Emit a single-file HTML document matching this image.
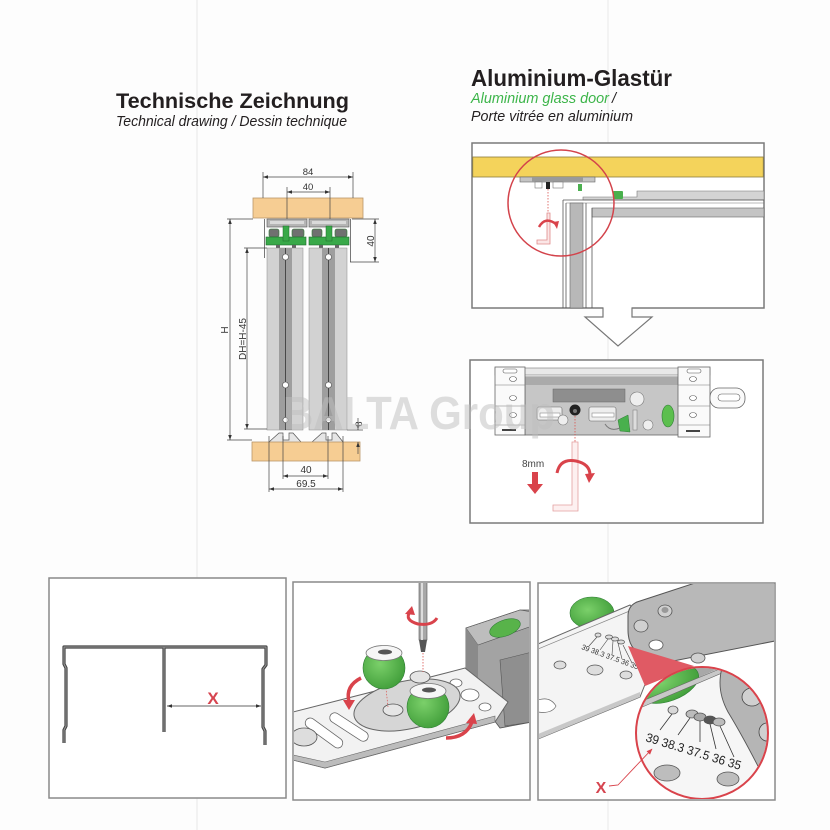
<!DOCTYPE html>
<html><head><meta charset="utf-8"><style>
html,body{margin:0;padding:0;background:#fff;}
svg{display:block;}
</style></head><body>
<svg width="830" height="830" viewBox="0 0 830 830" xmlns="http://www.w3.org/2000/svg" font-family="'Liberation Sans', sans-serif">
<defs>
<marker id="ar" viewBox="0 0 10 10" refX="10" refY="5" markerWidth="5" markerHeight="5" markerUnits="userSpaceOnUse" orient="auto-start-reverse"><path d="M0,1.5 L10,5 L0,8.5z" fill="#333"/></marker>
<marker id="ar2" viewBox="0 0 10 10" refX="9" refY="5" markerWidth="6" markerHeight="6" markerUnits="userSpaceOnUse" orient="auto"><path d="M0,1 L10,5 L0,9z" fill="#d9434b"/></marker>
<radialGradient id="gb" cx="0.4" cy="0.4" r="0.7"><stop offset="0" stop-color="#7bd06a"/><stop offset="1" stop-color="#3c9a36"/></radialGradient>
<clipPath id="c4"><rect x="294" y="583" width="235" height="216"/></clipPath>
<clipPath id="c5"><rect x="539" y="584" width="235" height="215"/></clipPath>
<clipPath id="cc"><circle cx="702" cy="733" r="65"/></clipPath>
</defs>
<rect width="830" height="830" fill="#fdfdfd"/>
<line x1="197" y1="0" x2="197" y2="830" stroke="#efefef" stroke-width="1.5"/>
<line x1="608" y1="0" x2="608" y2="830" stroke="#f0f0f0" stroke-width="1.5"/>

<!-- Titles -->
<text x="116" y="108" font-size="21.5" font-weight="bold" fill="#231f20" textLength="233" lengthAdjust="spacingAndGlyphs">Technische Zeichnung</text>
<text x="116" y="126" font-size="15" font-style="italic" fill="#231f20" textLength="231" lengthAdjust="spacingAndGlyphs">Technical drawing / Dessin technique</text>
<text x="471" y="86" font-size="23" font-weight="bold" fill="#231f20" textLength="201" lengthAdjust="spacingAndGlyphs">Aluminium-Glastür</text>
<text x="471" y="103" font-size="14.5" font-style="italic" fill="#3db54a" textLength="138" lengthAdjust="spacingAndGlyphs">Aluminium glass door</text>
<text x="612" y="103" font-size="14.5" font-style="italic" fill="#231f20">/</text>
<text x="471" y="121" font-size="14.5" font-style="italic" fill="#231f20" textLength="162" lengthAdjust="spacingAndGlyphs">Porte vitrée en aluminium</text>

<!-- Technical drawing -->
<rect x="253" y="198" width="110" height="20" fill="#f6cd93" stroke="#b9976a" stroke-width="0.8"/>
<g stroke="#444" stroke-width="0.7" fill="none">
<line x1="263" y1="177" x2="353" y2="177" marker-start="url(#ar)" marker-end="url(#ar)"/>
<line x1="263" y1="172" x2="263" y2="198"/>
<line x1="353" y1="172" x2="353" y2="198"/>
<line x1="287" y1="192" x2="330" y2="192" marker-start="url(#ar)" marker-end="url(#ar)"/>
<line x1="287" y1="187" x2="287" y2="230"/>
<line x1="330" y1="187" x2="330" y2="230"/>
</g>
<text x="308" y="175" font-size="9.5" text-anchor="middle" fill="#333">84</text>
<text x="308" y="190" font-size="9.5" text-anchor="middle" fill="#333">40</text>
<rect x="267" y="219" width="40" height="8" fill="#b5b5b5" stroke="#555" stroke-width="0.6"/>
<rect x="309" y="219" width="40" height="8" fill="#b5b5b5" stroke="#555" stroke-width="0.6"/>
<rect x="270" y="221" width="34" height="3" fill="#dadada"/>
<rect x="312" y="221" width="34" height="3" fill="#dadada"/>
<g stroke="#555" stroke-width="0.8">
<line x1="264.5" y1="219" x2="264.5" y2="258"/>
<line x1="350.5" y1="219" x2="350.5" y2="262"/>
</g>
<g id="grn">
<rect x="269" y="229" width="10" height="8" rx="2" fill="#707070" stroke="#2f7d35" stroke-width="0.6"/>
<rect x="292" y="229" width="12" height="8" rx="2" fill="#707070" stroke="#2f7d35" stroke-width="0.6"/>
<rect x="266" y="237" width="40" height="8" fill="#39a949" stroke="#1f6a2a" stroke-width="0.6"/>
<rect x="283" y="226" width="6" height="15" fill="#39a949" stroke="#1f6a2a" stroke-width="0.5"/>
<rect x="276" y="245" width="4" height="3" fill="#666"/>
<rect x="292" y="245" width="4" height="3" fill="#666"/>
</g>
<use href="#grn" x="43"/>
<rect x="267" y="248" width="36" height="182" fill="#d2d2d2" stroke="#888" stroke-width="0.5"/>
<rect x="279" y="248" width="13" height="182" fill="#9e9e9e"/>
<line x1="285.5" y1="248" x2="285.5" y2="430" stroke="#333" stroke-width="0.8"/>
<rect x="309" y="248" width="38" height="182" fill="#d2d2d2" stroke="#888" stroke-width="0.5"/>
<rect x="322" y="248" width="13" height="182" fill="#9e9e9e"/>
<line x1="328.5" y1="248" x2="328.5" y2="430" stroke="#333" stroke-width="0.8"/>
<g fill="#fff" stroke="#555" stroke-width="0.6">
<circle cx="285.5" cy="257" r="3"/><circle cx="285.5" cy="385" r="3"/><circle cx="285.5" cy="420" r="2.6"/>
<circle cx="328.5" cy="257" r="3"/><circle cx="328.5" cy="385" r="3"/><circle cx="328.5" cy="420" r="2.6"/>
</g>
<path d="M269,442 L279,433 L283,433 L283,440 L289,440 L289,433 L293,433 L301,442" fill="#e6e6e6" stroke="#555" stroke-width="0.7"/>
<path d="M312,442 L322,433 L326,433 L326,440 L332,440 L332,433 L336,433 L343,442" fill="#e6e6e6" stroke="#555" stroke-width="0.7"/>
<rect x="252" y="442" width="108" height="19" fill="#f6cd93" stroke="#b9976a" stroke-width="0.8"/>
<g stroke="#444" stroke-width="0.7" fill="none">
<line x1="269" y1="436" x2="269" y2="492"/>
<line x1="343" y1="436" x2="343" y2="492"/>
<line x1="283" y1="436" x2="283" y2="479"/>
<line x1="328" y1="436" x2="328" y2="479"/>
<line x1="283" y1="476" x2="328" y2="476" marker-start="url(#ar)" marker-end="url(#ar)"/>
<line x1="269" y1="489" x2="343" y2="489" marker-start="url(#ar)" marker-end="url(#ar)"/>
<line x1="227" y1="219" x2="253" y2="219"/>
<line x1="227" y1="440" x2="252" y2="440"/>
<line x1="230" y1="219" x2="230" y2="440" marker-start="url(#ar)" marker-end="url(#ar)"/>
<line x1="244" y1="248" x2="267" y2="248"/>
<line x1="244" y1="429" x2="267" y2="429"/>
<line x1="247" y1="248" x2="247" y2="429" marker-start="url(#ar)" marker-end="url(#ar)"/>
<line x1="352" y1="219" x2="379" y2="219"/>
<line x1="350" y1="262" x2="379" y2="262"/>
<line x1="375" y1="219" x2="375" y2="262" marker-start="url(#ar)" marker-end="url(#ar)"/>
<line x1="347" y1="430" x2="363" y2="430"/>
<line x1="358" y1="418" x2="358" y2="430" marker-end="url(#ar)"/>
<line x1="358" y1="454" x2="358" y2="442" marker-end="url(#ar)"/>
</g>
<text x="306" y="473" font-size="10" text-anchor="middle" fill="#333">40</text>
<text x="306" y="487" font-size="10" text-anchor="middle" fill="#333">69.5</text>
<text transform="translate(228,330) rotate(-90)" font-size="10" text-anchor="middle" fill="#333">H</text>
<text transform="translate(246,339) rotate(-90)" font-size="10" text-anchor="middle" fill="#333">DH=H-45</text>
<text transform="translate(374,241) rotate(-90)" font-size="10" text-anchor="middle" fill="#333">40</text>
<text transform="translate(362,424) rotate(-90)" font-size="9" text-anchor="middle" fill="#333">8</text>

<!-- Top-right panel 1 -->
<rect x="472" y="143" width="292" height="165" fill="#fff" stroke="#7a7a7a" stroke-width="1.5"/>
<rect x="472.75" y="157" width="290.5" height="20" fill="#f4d35b" stroke="#8d7d3e" stroke-width="0.8"/>
<rect x="520" y="177" width="75" height="5" fill="#c4c4c4" stroke="#666" stroke-width="0.6"/>
<rect x="532" y="177" width="51" height="5" fill="#9a9a9a"/>
<rect x="535" y="182" width="7" height="6" fill="#fff" stroke="#777" stroke-width="0.6"/>
<rect x="546" y="182" width="4" height="7" fill="#222"/>
<rect x="553" y="182" width="10" height="6" fill="#fff" stroke="#777" stroke-width="0.6"/>
<rect x="578" y="184" width="4" height="7" fill="#4cb050"/>
<path d="M583,197 L637,197 L637,191 L764,191 L764,200 L583,200 Z" fill="#d4d4d4" stroke="#777" stroke-width="0.6"/>
<rect x="613" y="191" width="10" height="8" rx="1" fill="#49b04d"/>
<line x1="563" y1="200" x2="764" y2="200" stroke="#555" stroke-width="0.8"/>
<line x1="566" y1="203" x2="764" y2="203" stroke="#777" stroke-width="0.6"/>
<rect x="592" y="208" width="172" height="9" fill="#c4c4c4" stroke="#666" stroke-width="0.6"/>
<rect x="570" y="203" width="13" height="105" fill="#b8b8b8" stroke="#666" stroke-width="0.6"/>
<g stroke="#555" stroke-width="0.8">
<line x1="563" y1="200" x2="563" y2="308"/>
<line x1="566" y1="203" x2="566" y2="308"/>
<line x1="586" y1="203" x2="586" y2="308"/>
<line x1="592" y1="208" x2="592" y2="308"/>
</g>
<circle cx="561" cy="203" r="53" fill="none" stroke="#d3434b" stroke-width="1.5"/>
<line x1="548" y1="189" x2="548" y2="213" stroke="#d9534f" stroke-width="0.8" stroke-dasharray="1.5 1.5"/>
<path d="M547,213 L550,213 L550,244 L537,244 L537,240 L547,240 Z" fill="#fbe6e6" stroke="#e08a8a" stroke-width="0.8"/>
<path d="M539,227 Q545,216 556,224" fill="none" stroke="#d9434b" stroke-width="2.5"/>
<path d="M553,222 L559,221 L557,229 Z" fill="#d9434b"/>
<rect x="603.5" y="305" width="28" height="6" fill="#fff"/>
<path d="M603,308 L603,317 L585,317 L618,346 L652,317 L632,317 L632,308" fill="#fff" stroke="#777" stroke-width="1.2"/>

<!-- Panel 2 -->
<rect x="470" y="360" width="293" height="163" fill="#fff" stroke="#7a7a7a" stroke-width="1.5"/>
<rect x="495" y="368" width="215" height="7" fill="#e8e8e8" stroke="#777" stroke-width="0.6"/>
<rect x="525" y="377" width="155" height="58" fill="#c6c6c6" stroke="#666" stroke-width="0.8"/>
<rect x="525" y="377" width="155" height="8" fill="#aaa"/>
<rect x="553" y="389" width="72" height="13" fill="#8e8e8e" stroke="#666" stroke-width="0.5"/>
<circle cx="637" cy="399" r="7" fill="#eee" stroke="#777" stroke-width="0.6"/>
<rect x="537" y="407" width="25" height="13" rx="2" fill="#eee" stroke="#666" stroke-width="0.6"/>
<rect x="540" y="413" width="20" height="4" fill="#fff" stroke="#777" stroke-width="0.5"/>
<rect x="589" y="407" width="27" height="14" rx="2" fill="#eee" stroke="#666" stroke-width="0.6"/>
<rect x="592" y="413" width="22" height="4" fill="#fff" stroke="#777" stroke-width="0.5"/>
<circle cx="563" cy="420" r="5" fill="#eee" stroke="#777" stroke-width="0.6"/>
<circle cx="648" cy="425" r="5" fill="#eee" stroke="#777" stroke-width="0.6"/>
<circle cx="575" cy="410" r="5.5" fill="#222"/>
<circle cx="575" cy="411" r="2" fill="#777"/>
<ellipse cx="668" cy="416" rx="6" ry="11" fill="#5cbf4e" stroke="#2f7d35" stroke-width="0.6"/>
<path d="M618,420 L628,415 L630,432 L620,431Z" fill="#49b04d" stroke="#2f7d35" stroke-width="0.5"/>
<path d="M605,424 Q610,432 620,428" fill="none" stroke="#777" stroke-width="1"/>
<rect x="633" y="410" width="4" height="20" fill="#ddd" stroke="#777" stroke-width="0.5"/>
<g fill="#fafafa" stroke="#666" stroke-width="0.8">
<rect x="495" y="367" width="30" height="68"/>
<rect x="678" y="367" width="32" height="70"/>
<rect x="710" y="388" width="35" height="20" rx="9"/>
</g>
<g stroke="#777" stroke-width="0.6">
<line x1="495" y1="385" x2="525" y2="385"/><line x1="495" y1="406" x2="525" y2="406"/><line x1="495" y1="425" x2="525" y2="425"/>
<line x1="678" y1="385" x2="710" y2="385"/><line x1="678" y1="406" x2="710" y2="406"/><line x1="678" y1="425" x2="710" y2="425"/>
</g>
<g fill="#fff" stroke="#555" stroke-width="0.6">
<rect x="503" y="369" width="14" height="4" rx="2"/>
<ellipse cx="513" cy="379" rx="3.5" ry="2.5"/>
<ellipse cx="513" cy="398" rx="3.5" ry="2.5"/>
<ellipse cx="513" cy="415" rx="3.5" ry="2.5"/>
<rect x="687" y="369" width="14" height="4" rx="2"/>
<ellipse cx="693" cy="379" rx="3.5" ry="2.5"/>
<ellipse cx="693" cy="398" rx="3.5" ry="2.5"/>
<ellipse cx="693" cy="415" rx="3.5" ry="2.5"/>
<rect x="718" y="394" width="22" height="7" rx="3.5"/>
</g>
<rect x="502" y="429" width="14" height="2" fill="#444"/>
<rect x="686" y="430" width="14" height="2" fill="#444"/>
<line x1="575" y1="416" x2="575" y2="442" stroke="#d9534f" stroke-width="0.8" stroke-dasharray="1.5 1.5"/>
<path d="M572,442 L578,442 L578,511 L553,511 L553,505 L572,505 Z" fill="#fdf0f0" stroke="#e3a0a0" stroke-width="0.8"/>
<path d="M557,473 Q560,458 576,461 Q590,464 590,475" fill="none" stroke="#d9434b" stroke-width="3"/>
<path d="M585,474 L595,473 L589,483 Z" fill="#d9434b"/>
<text x="522" y="467" font-size="10" fill="#444">8mm</text>
<rect x="532" y="472" width="6" height="13" fill="#d9434b"/>
<path d="M527,484 L543,484 L535,494 Z" fill="#d9434b"/>

<!-- Panel 3 -->
<rect x="49" y="578" width="237" height="220" fill="#fff" stroke="#8a8a8a" stroke-width="1.5"/>
<g fill="none" stroke-linejoin="round">
<path d="M64,743 L64,730 L66,726 L66,668 L64,664 L64,647 L266,647 L266,665 L263,669 L263,727 L265,731 L265,745 M164,647 L164,732" stroke="#444" stroke-width="3.2"/>
<path d="M64,743 L64,730 L66,726 L66,668 L64,664 L64,647 L266,647 L266,665 L263,669 L263,727 L265,731 L265,745 M164,647 L164,732" stroke="#9a9a9a" stroke-width="1"/>
</g>
<line x1="167" y1="706" x2="261" y2="706" stroke="#333" stroke-width="0.8" marker-start="url(#ar)" marker-end="url(#ar)"/>
<text x="213" y="704" font-size="17" font-weight="bold" fill="#d64550" text-anchor="middle">X</text>

<!-- Panel 4 -->
<rect x="293" y="582" width="237" height="218" fill="#fff" stroke="#8a8a8a" stroke-width="1.5"/>
<g clip-path="url(#c4)">
<path d="M466,628 L520,610 L532,610 L532,722 L500,728 L488,712 L466,706 Z" fill="#a3a3a3" stroke="#555" stroke-width="0.8"/>
<path d="M466,628 L520,610 L532,612 L532,626 L478,645 Z" fill="#bdbdbd" stroke="#555" stroke-width="0.6"/>
<path d="M466,628 L478,645 L478,705 L466,706 Z" fill="#8a8a8a"/>
<path d="M500,660 L532,652 L532,722 L505,726 Z" fill="#8f8f8f" stroke="#555" stroke-width="0.6"/>
<ellipse cx="505" cy="628" rx="16" ry="8" transform="rotate(-20 505 628)" fill="#58b34a" stroke="#2f7d35" stroke-width="0.6"/>
<path d="M293,712 L446,673 L465,668 L508,702 L495,722 L325,768 L293,760 Z" fill="#f2f2f2" stroke="#666" stroke-width="1"/>
<path d="M293,755 L325,762 L495,716 L495,722 L325,768 L293,760 Z" fill="#bcbcbc" stroke="#666" stroke-width="0.6"/>
<g fill="#fff" stroke="#666" stroke-width="0.8">
<rect x="302" y="728" width="44" height="10" rx="5" transform="rotate(36 324 733)"/>
<rect x="327" y="722" width="44" height="10" rx="5" transform="rotate(33 349 727)"/>
<ellipse cx="456" cy="683" rx="6" ry="4"/>
<ellipse cx="470" cy="695" rx="9" ry="6"/>
<ellipse cx="485" cy="707" rx="6" ry="4"/>
</g>
<ellipse cx="304" cy="737" rx="13" ry="9" fill="#ddd" stroke="#555" stroke-width="0.8"/>
<ellipse cx="407" cy="705" rx="54" ry="24" transform="rotate(-12 407 705)" fill="#d6d6d6" stroke="#666" stroke-width="1"/>
<ellipse cx="420" cy="677" rx="10" ry="6" fill="#e5e5e5" stroke="#555" stroke-width="0.8"/>
<ellipse cx="393" cy="710" rx="10" ry="6" fill="#e5e5e5" stroke="#555" stroke-width="0.8"/>
<line x1="384" y1="670" x2="388" y2="707" stroke="#d9534f" stroke-width="0.7" stroke-dasharray="1.5 1.5"/>
<circle cx="384" cy="668" r="21" fill="url(#gb)" stroke="#2f7d35" stroke-width="0.6"/>
<ellipse cx="384" cy="653" rx="18" ry="7.5" fill="#f6f6f6" stroke="#777" stroke-width="0.8"/>
<ellipse cx="385" cy="652" rx="7" ry="2.5" fill="#555"/>
<circle cx="428" cy="707" r="21" fill="url(#gb)" stroke="#2f7d35" stroke-width="0.6"/>
<ellipse cx="428" cy="691" rx="18" ry="7.5" fill="#f6f6f6" stroke="#777" stroke-width="0.8"/>
<ellipse cx="429" cy="690" rx="7" ry="2.5" fill="#555"/>
<rect x="419" y="582" width="8" height="58" fill="#a8a8a8" stroke="#555" stroke-width="0.6"/>
<rect x="421" y="582" width="2" height="58" fill="#ddd"/>
<path d="M419,640 L427,640 L425,652 L421,652 Z" fill="#555"/>
<line x1="423" y1="653" x2="423" y2="672" stroke="#d9534f" stroke-width="0.8" stroke-dasharray="1.5 1.5"/>
<path d="M410,612 Q404,620 418,624 Q432,626 437,618" fill="none" stroke="#d9434b" stroke-width="3"/>
<path d="M405,614 L412,606 L415,615 Z" fill="#d9434b"/>
<path d="M361,678 Q345,686 349,702" fill="none" stroke="#d9434b" stroke-width="3.5"/>
<path d="M343,700 L355,700 L349,710 Z" fill="#d9434b"/>
<path d="M446,738 Q466,738 472,722" fill="none" stroke="#d9434b" stroke-width="3.5"/>
<path d="M466,723 L477,724 L474,713 Z" fill="#d9434b"/>
</g>

<!-- Panel 5 -->
<rect x="538" y="583" width="237" height="217" fill="#fff" stroke="#8a8a8a" stroke-width="1.5"/>
<g clip-path="url(#c5)">
<ellipse cx="592" cy="613" rx="22" ry="16" fill="url(#gb)" stroke="#2f7d35" stroke-width="0.6"/>
<path d="M538,644 L630,605 L636,612 L632,646 L650,672 L640,697 L538,739 Z" fill="#f4f4f4" stroke="#666" stroke-width="1"/>
<line x1="538" y1="649" x2="632" y2="610" stroke="#888" stroke-width="0.7"/>
<path d="M538,734 L640,692 L640,697 L538,739 Z" fill="#c8c8c8"/>
<path d="M628,616 Q628,606 637,602 L695,583 L775,583 L775,641 L658,664 L634,649 Q628,642 628,630 Z" fill="#b8b8b8" stroke="#555" stroke-width="1"/>
<g fill="#d0d0d0" stroke="#555" stroke-width="0.8">
<ellipse cx="665" cy="611" rx="7" ry="6"/>
<ellipse cx="641" cy="626" rx="7" ry="6"/>
<ellipse cx="698" cy="658" rx="7" ry="5"/>
</g>
<ellipse cx="665" cy="610" rx="3.5" ry="3" fill="#999"/>
<ellipse cx="656" cy="645" rx="7" ry="5" fill="#fff" stroke="#555" stroke-width="0.8"/>
<g fill="#ddd" stroke="#555" stroke-width="0.7">
<ellipse cx="560" cy="665" rx="6" ry="4"/>
<ellipse cx="595" cy="670" rx="8" ry="5"/>
<ellipse cx="626" cy="675" rx="6" ry="4"/>
<ellipse cx="598" cy="635" rx="3" ry="2"/>
<ellipse cx="609" cy="637" rx="3.5" ry="2"/>
<ellipse cx="615" cy="639" rx="3.5" ry="2"/>
<ellipse cx="621" cy="642" rx="3.5" ry="2"/>
</g>
<path d="M538,700 Q550,696 556,706 Q552,714 538,712 Z" fill="#fff" stroke="#666" stroke-width="0.7"/>
<g stroke="#444" stroke-width="0.6">
<line x1="589" y1="646" x2="597" y2="637"/><line x1="600" y1="650" x2="608" y2="639"/>
<line x1="612" y1="655" x2="613" y2="641"/><line x1="622" y1="659" x2="618" y2="643"/>
<line x1="632" y1="663" x2="623" y2="645"/>
</g>
<text transform="translate(581,649) rotate(20)" font-size="7.5" fill="#333" textLength="60" lengthAdjust="spacingAndGlyphs">39 38.3 37.5 36 35</text>
<path d="M628,646 L645,686 L694,666 Z" fill="#e05a64"/>
<circle cx="702" cy="733" r="66" fill="#f6f6f6"/>
<g clip-path="url(#cc)">
<path d="M630,660 L740,660 L720,668 L640,703 Z" fill="#a8a8a8"/>
<ellipse cx="668" cy="684" rx="32" ry="17" transform="rotate(-20 668 684)" fill="url(#gb)" stroke="#2f7d35" stroke-width="0.6"/>
<path d="M630,707 L640,702 L722,668 L722,673 L640,708 Z" fill="#c8c8c8" stroke="#666" stroke-width="0.6"/>
<path d="M722,660 L780,660 L780,800 L765,780 Q745,740 728,712 Q716,690 722,668 Z" fill="#b5b5b5" stroke="#555" stroke-width="0.9"/>
<ellipse cx="752" cy="697" rx="10" ry="9" fill="#d0d0d0" stroke="#444" stroke-width="0.8"/>
<ellipse cx="767" cy="732" rx="8" ry="9" fill="#d0d0d0" stroke="#444" stroke-width="0.8"/>
<g stroke="#555" stroke-width="0.8">
<ellipse cx="673" cy="710" rx="5" ry="4" fill="#d8d8d8"/>
<ellipse cx="692" cy="714" rx="6" ry="4" fill="#bcbcbc"/>
<ellipse cx="700" cy="717" rx="6" ry="4" fill="#aaa"/>
<ellipse cx="710" cy="720" rx="6" ry="4" fill="#555"/>
<ellipse cx="719" cy="722" rx="6" ry="4" fill="#bcbcbc"/>
<ellipse cx="667" cy="773" rx="13" ry="8" fill="#bdbdbd"/>
<ellipse cx="728" cy="779" rx="11" ry="7" fill="#bdbdbd"/>
</g>
<g stroke="#333" stroke-width="0.8">
<line x1="660" y1="730" x2="672" y2="714"/>
<line x1="678" y1="735" x2="690" y2="718"/>
<line x1="700" y1="742" x2="700" y2="721"/>
<line x1="716" y1="749" x2="710" y2="724"/>
<line x1="734" y1="757" x2="720" y2="726"/>
</g>
<text transform="translate(645,741) rotate(17)" font-size="12.5" fill="#222" textLength="99" lengthAdjust="spacingAndGlyphs">39 38.3 37.5 36 35</text>
</g>
<circle cx="702" cy="733" r="66" fill="none" stroke="#d9434b" stroke-width="2"/>
<polyline points="609,786 618,785 652,749" fill="none" stroke="#d9434b" stroke-width="0.9" marker-end="url(#ar2)"/>
<text x="601" y="793" font-size="16" font-weight="bold" fill="#d64550" text-anchor="middle">X</text>
</g>

<!-- watermark -->
<text x="283" y="429" font-size="46" font-weight="bold" fill="#bdbdbd" fill-opacity="0.5" textLength="272" lengthAdjust="spacingAndGlyphs">BALTA Group</text>
</svg>
</body></html>
